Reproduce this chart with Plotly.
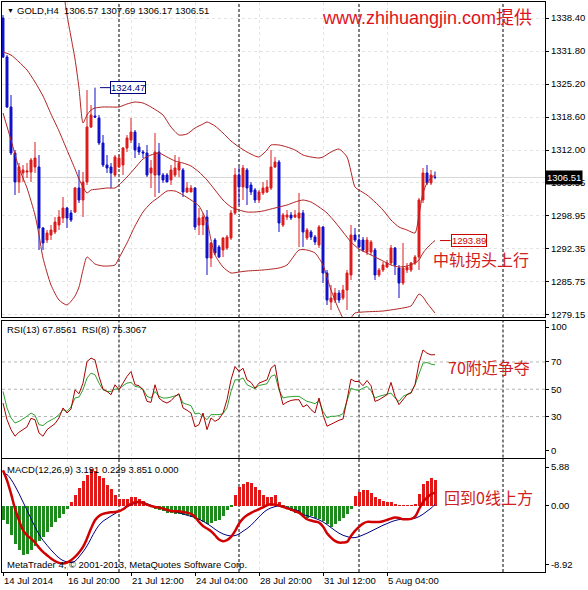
import plotly.graph_objects as go

# ---------------- 数据: GOLD H4 (14 Jul - 7 Aug 2014) ----------------
open_ = [1338.4, 1330.6, 1320.6, 1311.4, 1305.6, 1307.4, 1307.6, 1307.6, 1308.6, 1308.6,
         1296.4, 1294.0, 1295.0, 1295.6, 1297.0, 1298.4, 1300.4, 1299.4, 1299.6, 1304.4,
         1302.0, 1305.6, 1316.6, 1318.8, 1318.4, 1313.4, 1309.0, 1308.6, 1307.0, 1308.6,
         1309.0, 1312.4, 1314.0, 1315.6, 1312.6, 1311.6, 1311.4, 1307.4, 1307.0, 1311.6,
         1307.0, 1307.0, 1306.0, 1307.0, 1308.0, 1308.0, 1303.6, 1303.6, 1304.4, 1297.0,
         1297.0, 1298.6, 1290.4, 1294.0, 1292.6, 1292.0, 1292.4, 1294.4, 1299.4, 1307.0,
         1304.6, 1308.0, 1305.0, 1304.0, 1302.0, 1303.4, 1303.6, 1304.4, 1308.6, 1309.6,
         1297.0, 1298.6, 1299.0, 1298.6, 1298.4, 1299.4, 1294.4, 1295.6, 1294.6, 1293.0,
         1296.6, 1287.4, 1281.6, 1282.0, 1283.4, 1282.4, 1284.0, 1287.0, 1295.0, 1294.0,
         1294.0, 1291.6, 1291.6, 1292.0, 1287.0, 1288.0, 1288.6, 1289.4, 1292.4, 1288.4,
         1285.4, 1288.0, 1288.0, 1289.4, 1290.6, 1302.0, 1307.4, 1305.4, 1306.57]
high = [1339.0, 1331.0, 1323.0, 1312.0, 1309.4, 1309.0, 1309.4, 1310.4, 1313.6, 1311.0,
        1296.6, 1296.0, 1297.0, 1298.6, 1300.0, 1302.6, 1300.6, 1300.0, 1304.6, 1308.0,
        1307.6, 1324.0, 1321.0, 1324.47, 1319.0, 1315.0, 1311.0, 1309.4, 1311.0, 1311.0,
        1312.6, 1315.0, 1318.4, 1316.0, 1313.4, 1312.0, 1313.0, 1310.0, 1315.4, 1313.4,
        1307.4, 1307.4, 1309.0, 1311.0, 1310.6, 1308.4, 1305.6, 1305.0, 1304.6, 1300.4,
        1299.4, 1300.0, 1293.6, 1294.4, 1293.0, 1294.6, 1295.0, 1300.0, 1308.4, 1308.6,
        1309.0, 1308.4, 1305.6, 1304.4, 1304.0, 1305.6, 1306.0, 1312.0, 1310.6, 1310.0,
        1299.4, 1300.0, 1299.6, 1300.0, 1303.4, 1300.0, 1296.4, 1296.0, 1295.0, 1297.0,
        1296.8, 1288.0, 1285.0, 1284.4, 1284.0, 1285.0, 1288.0, 1297.0, 1296.4, 1295.0,
        1294.6, 1294.6, 1294.0, 1292.4, 1288.4, 1289.6, 1290.0, 1293.0, 1292.6, 1289.0,
        1293.4, 1289.4, 1289.6, 1291.0, 1302.4, 1308.4, 1309.0, 1308.0, 1307.69]
low = [1330.4, 1320.4, 1311.0, 1303.0, 1303.4, 1305.6, 1306.4, 1305.6, 1307.4, 1292.0,
       1292.0, 1293.4, 1294.0, 1295.2, 1296.0, 1297.4, 1296.4, 1297.6, 1299.4, 1301.4,
       1298.6, 1305.0, 1316.4, 1318.4, 1313.0, 1308.6, 1307.4, 1304.4, 1306.6, 1308.4,
       1307.0, 1311.6, 1313.4, 1310.4, 1311.0, 1310.4, 1306.6, 1304.4, 1302.6, 1303.4,
       1305.4, 1305.6, 1305.0, 1306.6, 1306.6, 1302.6, 1303.4, 1303.6, 1296.0, 1295.0,
       1295.0, 1287.0, 1288.6, 1291.0, 1290.4, 1290.6, 1292.0, 1294.0, 1299.0, 1301.0,
       1302.0, 1301.0, 1303.0, 1301.4, 1301.4, 1303.0, 1303.4, 1304.0, 1308.4, 1295.6,
       1296.6, 1298.0, 1298.0, 1298.4, 1292.6, 1292.6, 1294.0, 1294.0, 1293.0, 1292.4,
       1285.4, 1281.0, 1280.0, 1281.4, 1281.4, 1282.0, 1280.0, 1286.0, 1293.6, 1292.4,
       1291.6, 1291.0, 1291.0, 1286.0, 1286.6, 1287.6, 1288.4, 1289.0, 1287.0, 1282.4,
       1285.0, 1287.4, 1287.6, 1289.0, 1288.0, 1301.4, 1305.0, 1305.0, 1306.17]
close = [1330.6, 1320.6, 1311.4, 1305.6, 1308.6, 1308.0, 1307.8, 1310.0, 1310.4, 1296.4,
         1293.4, 1295.4, 1296.0, 1297.6, 1298.6, 1300.4, 1298.4, 1298.0, 1304.4, 1302.0,
         1305.6, 1316.6, 1319.0, 1318.6, 1313.4, 1309.0, 1308.4, 1307.4, 1310.6, 1310.4,
         1312.4, 1314.4, 1315.6, 1312.0, 1311.6, 1311.4, 1307.0, 1308.4, 1311.6, 1307.0,
         1306.0, 1305.6, 1308.0, 1308.4, 1309.4, 1303.6, 1304.4, 1304.4, 1296.6, 1298.4,
         1298.6, 1290.4, 1293.4, 1291.4, 1290.6, 1294.4, 1294.6, 1299.4, 1307.0, 1304.6,
         1308.4, 1304.4, 1303.6, 1302.0, 1303.6, 1304.4, 1304.6, 1308.6, 1309.6, 1297.4,
         1299.0, 1299.0, 1298.4, 1299.0, 1299.4, 1295.6, 1296.0, 1294.6, 1293.6, 1296.6,
         1287.4, 1282.0, 1282.4, 1283.4, 1282.0, 1284.0, 1287.4, 1295.0, 1294.0, 1292.6,
         1292.0, 1294.0, 1293.6, 1287.0, 1288.0, 1289.0, 1289.4, 1292.4, 1289.0, 1285.4,
         1288.4, 1288.6, 1289.4, 1290.6, 1302.0, 1307.4, 1305.4, 1307.0, 1306.51]

# Bollinger 上/中/下轨 (bar index, price)
bb_up_idx = [0, 3, 6, 9, 12, 14, 15, 16, 17, 18, 19, 20, 21, 22, 23, 25, 27, 29, 31, 33,
             35, 37, 39, 40, 42, 44, 46, 48, 50, 51, 53, 55, 57, 59, 61, 63, 64, 66, 67, 69,
             71, 73, 75, 77, 79, 80, 82, 84, 86, 88, 89, 91, 93, 95, 97, 99, 101, 103, 104,
             105, 106, 107, 108]
bb_up = [1372.0, 1370.0, 1367.0, 1363.0, 1356.0, 1350.0, 1344.4, 1339.0, 1334.6, 1330.2,
         1324.4, 1317.4, 1319.0, 1320.0, 1320.4, 1320.6, 1320.6, 1320.6, 1321.2, 1321.6,
         1321.4, 1320.6, 1319.6, 1319.0, 1316.6, 1315.0, 1315.2, 1316.4, 1317.2, 1317.6,
         1316.8, 1315.4, 1313.8, 1312.6, 1311.6, 1310.8, 1310.6, 1312.0, 1313.0, 1313.0,
         1312.6, 1312.0, 1311.0, 1310.6, 1310.4, 1310.6, 1311.6, 1312.2, 1310.6, 1304.6,
         1304.0, 1303.0, 1301.6, 1300.0, 1298.0, 1296.6, 1296.0, 1295.4, 1299.0, 1303.4,
         1305.4, 1306.4, 1307.0]
bb_mid_idx = [0, 2, 4, 6, 8, 10, 12, 14, 16, 18, 19, 20, 21, 22, 24, 26, 28, 29, 31, 33,
              35, 37, 39, 41, 43, 45, 47, 49, 51, 53, 55, 57, 59, 61, 63, 65, 67, 69, 71, 73,
              75, 77, 79, 81, 83, 85, 87, 89, 91, 93, 95, 97, 99, 101, 103, 104, 105, 106,
              107, 108]
bb_mid = [1331.6, 1331.0, 1329.6, 1328.0, 1325.6, 1322.8, 1319.2, 1315.8, 1312.0, 1308.2,
          1306.2, 1304.6, 1303.4, 1304.0, 1304.2, 1304.4, 1304.4, 1305.0, 1306.6, 1308.4,
          1310.2, 1311.0, 1311.4, 1310.6, 1309.8, 1309.4, 1308.8, 1307.6, 1306.0, 1304.0,
          1302.0, 1300.6, 1300.0, 1299.6, 1299.6, 1299.8, 1300.2, 1300.6, 1301.0, 1301.6,
          1302.0, 1301.6, 1300.6, 1299.4, 1297.6, 1295.6, 1293.6, 1292.2, 1291.4, 1290.6,
          1289.8, 1289.0, 1288.6, 1288.8, 1289.4, 1290.0, 1291.4, 1292.4, 1293.2, 1293.89]
bb_low_idx = [0, 2, 4, 6, 8, 9, 10, 12, 14, 16, 18, 19, 20, 21, 23, 25, 28, 29, 31, 33,
              35, 37, 39, 41, 43, 45, 47, 49, 51, 52, 53, 55, 57, 59, 61, 65, 69, 71, 74, 76,
              78, 80, 82, 84, 86, 87, 88, 90, 95, 100, 102, 103, 104, 105, 106, 107, 108]
bb_low = [1319.4, 1314.0, 1308.4, 1304.4, 1299.0, 1295.0, 1290.4, 1285.0, 1282.0, 1281.0,
          1282.8, 1284.6, 1288.0, 1290.6, 1289.2, 1288.8, 1289.0, 1290.4, 1293.4, 1296.8,
          1299.6, 1301.4, 1302.6, 1303.8, 1303.8, 1303.0, 1302.0, 1300.8, 1297.6, 1294.0,
          1291.0, 1288.6, 1287.4, 1287.6, 1287.8, 1288.0, 1288.4, 1289.0, 1292.0, 1292.0,
          1291.4, 1289.0, 1284.0, 1280.0, 1277.0, 1278.4, 1279.4, 1279.6, 1279.8, 1280.4,
          1280.8, 1282.0, 1283.2, 1282.6, 1281.4, 1280.4, 1279.4]

rsi13 = [48.4, 36.3, 29.0, 25.3, 26.5, 28.2, 30.2, 32.6, 30.9, 24.1,
         23.4, 25.8, 27.3, 29.0, 31.4, 35.0, 33.8, 37.0, 43.6, 44.3,
         49.6, 58.2, 61.8, 60.6, 54.5, 49.6, 48.4, 48.4, 50.1, 50.1,
         52.6, 54.5, 55.0, 52.1, 51.6, 50.1, 44.8, 43.6, 48.4, 44.8,
         43.6, 43.6, 44.3, 45.3, 46.0, 39.9, 38.7, 38.0, 31.9, 32.6,
         30.2, 27.7, 31.4, 31.4, 31.4, 32.1, 36.3, 48.4, 56.9, 56.9,
         58.2, 53.3, 52.1, 50.4, 52.8, 53.3, 54.0, 59.4, 60.6, 49.6,
         43.6, 44.3, 44.8, 44.8, 44.8, 42.8, 41.1, 40.4, 39.4, 41.8,
         33.8, 29.0, 30.2, 30.2, 30.7, 32.1, 42.3, 50.8, 49.6, 49.2,
         50.8, 52.1, 48.9, 43.6, 44.8, 45.7, 46.7, 47.2, 43.6, 41.1,
         44.8, 46.0, 47.7, 53.3, 61.8, 69.1, 69.6, 68.4, 67.86]
rsi8 = [39.9, 27.7, 20.4, 15.6, 18.5, 20.4, 22.4, 28.7, 27.7, 18.0,
        15.6, 20.4, 22.4, 24.8, 29.0, 36.3, 32.6, 35.5, 49.6, 46.7,
        54.5, 70.3, 72.8, 71.5, 59.4, 50.1, 48.4, 46.0, 53.3, 49.6,
        54.5, 59.4, 63.0, 53.3, 52.6, 49.6, 41.1, 40.4, 53.3, 43.6,
        41.1, 39.9, 41.6, 44.8, 46.7, 36.3, 34.6, 32.6, 22.4, 24.1,
        32.6, 20.4, 29.0, 26.5, 28.2, 32.6, 42.3, 56.9, 66.7, 63.0,
        65.4, 56.9, 55.0, 50.8, 54.5, 55.7, 56.9, 65.4, 67.9, 50.8,
        38.7, 40.6, 41.8, 42.3, 42.3, 37.0, 38.7, 35.0, 32.6, 43.6,
        31.4, 22.9, 24.1, 25.8, 27.3, 28.2, 42.3, 57.4, 55.7, 55.7,
        52.6, 56.4, 52.6, 41.1, 42.3, 44.3, 46.0, 55.0, 44.8, 38.7,
        42.3, 46.0, 47.2, 53.3, 69.1, 78.8, 76.4, 75.2, 75.31]

macd_hist = [-2.16, -2.67, -4.43, -5.68, -6.69, -7.34, -7.19, -6.69, -6.04, -5.33,
             -4.68, -3.92, -3.17, -2.41, -1.81, -1.16, -0.50, 0.60, 1.71, 2.72,
             3.72, 4.73, 5.53, 5.23, 4.53, 4.23, 3.22, 2.52, 1.71, 1.11,
             1.11, 1.11, 1.36, 1.36, 1.11, 0.70, 0.20, -0.20, -0.40, -0.65,
             -0.80, -1.01, -1.06, -1.16, -1.16, -1.31, -1.41, -1.66, -1.91, -2.16,
             -2.41, -2.67, -2.52, -2.31, -2.06, -1.51, -0.65, -0.05, 1.61, 2.87,
             3.37, 3.62, 3.52, 2.87, 2.36, 1.71, 1.36, 1.36, 1.71, 0.60,
             0.05, -0.40, -0.80, -1.01, -1.20, -1.66, -1.76, -1.51, -1.76, -2.01,
             -2.26, -2.77, -3.12, -2.77, -2.26, -1.76, -1.26, -0.50, 1.51, 2.11,
             2.41, 2.36, 1.91, 1.41, 1.01, 0.75, 0.65, 0.60, 0.35, 0.10,
             0.10, 0.10, 0.10, 0.25, 1.76, 3.27, 3.77, 4.28, 3.85]
macd_dif = [5.38, 3.87, 1.86, -0.40, -2.16, -3.67, -4.43, -4.93, -5.53, -6.29,
            -6.94, -7.44, -7.95, -8.35, -8.60, -8.70, -8.55, -8.20, -7.70, -7.04,
            -6.19, -4.93, -3.42, -2.16, -1.51, -1.21, -1.06, -0.96, -0.91, -0.80,
            -0.50, -0.05, 0.30, 0.55, 0.60, 0.45, 0.20, 0.00, -0.15, -0.25,
            -0.40, -0.60, -0.75, -0.80, -0.80, -0.91, -1.01, -1.21, -1.66, -2.41,
            -3.02, -3.42, -3.82, -4.43, -5.08, -5.33, -5.18, -4.68, -3.82, -2.67,
            -1.91, -1.41, -1.06, -0.75, -0.50, -0.20, 0.10, 0.25, 0.20, 0.05,
            -0.15, -0.35, -0.55, -0.80, -1.01, -1.51, -2.01, -2.21, -2.36, -2.52,
            -3.12, -4.12, -4.78, -5.28, -5.53, -5.53, -5.43, -4.53, -3.77, -3.17,
            -2.67, -2.41, -2.41, -2.41, -2.41, -2.31, -2.11, -1.91, -1.76, -1.81,
            -2.01, -2.01, -1.96, -1.61, -0.50, 0.60, 1.26, 1.76, 2.01]
macd_dea = [4.88, 4.73, 4.02, 3.02, 1.86, 0.60, -0.65, -1.91, -3.17, -4.28,
            -5.18, -5.94, -6.64, -7.29, -7.85, -8.25, -8.45, -8.55, -8.35, -7.70,
            -6.94, -6.04, -4.93, -3.82, -2.92, -2.31, -1.91, -1.51, -1.16, -0.80,
            -0.50, -0.15, 0.15, 0.40, 0.55, 0.55, 0.35, 0.10, -0.15, -0.30,
            -0.45, -0.65, -0.80, -0.91, -1.01, -1.21, -1.41, -1.56, -1.76, -2.01,
            -2.31, -2.67, -3.07, -3.52, -3.92, -4.23, -4.43, -4.53, -4.48, -4.23,
            -3.82, -3.42, -2.92, -2.31, -1.66, -1.06, -0.60, -0.30, -0.10, 0.00,
            -0.05, -0.20, -0.40, -0.60, -0.75, -1.31, -1.46, -1.66, -1.86, -2.11,
            -2.41, -2.82, -3.27, -3.72, -4.12, -4.43, -4.63, -4.78, -4.78, -4.63,
            -4.38, -4.12, -3.82, -3.52, -3.22, -2.92, -2.67, -2.41, -2.21, -2.06,
            -2.01, -2.01, -1.96, -1.86, -1.61, -1.26, -0.80, -0.35, 0.23]

time_labels = ["14 Jul 2014", "16 Jul 20:00", "21 Jul 12:00", "24 Jul 04:00",
               "28 Jul 20:00", "31 Jul 12:00", "5 Aug 04:00"]
time_label_idx = [0, 16, 32, 48, 64, 80, 96]
week_sep_idx = [29, 59, 89, 125]

price_ticks = [1338.40, 1331.80, 1325.20, 1318.60, 1312.00, 1305.48, 1298.95, 1292.35, 1285.75, 1279.15]
price_tick_text = ["1338.40", "1331.80", "1325.20", "1318.60", "1312.00", "1305.55",
                   "1298.95", "1292.35", "1285.75", "1279.15"]
rsi_ticks = [95.6, 70, 50, 30, 4.8]
rsi_tick_text = ["100", "70", "50", "30", "0"]
macd_ticks = [5.88, 0.0, -8.92]
macd_tick_text = ["5.88", "0.00", "-8.92"]

bars = list(range(len(close)))

# ---------------- 版面 ----------------
W, H = 588, 590
ML, MR, MT, MB = 2, 43, 2, 18
PW, PH = W - ML - MR, H - MT - MB


def paper_x(p):
    return (p - ML) / PW


def paper_y(p):
    return (H - MB - p) / PH


RED = "#dd1c1c"
BLUE = "#1010c8"
BAND = "#b22222"
FONT = "Liberation Sans, Arial, sans-serif"
CJK = "Noto Sans CJK SC, sans-serif"

fig = go.Figure()

fig.add_trace(go.Candlestick(
    x=bars, open=open_, high=high, low=low, close=close,
    increasing=dict(line=dict(color=RED, width=1), fillcolor=RED),
    decreasing=dict(line=dict(color=BLUE, width=1), fillcolor=BLUE),
    whiskerwidth=0, xaxis="x", yaxis="y", hoverinfo="skip",
))
for idx, vals in [(bb_up_idx, bb_up), (bb_mid_idx, bb_mid), (bb_low_idx, bb_low)]:
    fig.add_trace(go.Scatter(x=idx, y=vals, mode="lines",
                             line=dict(color=BAND, width=1, shape="spline", smoothing=0.6),
                             xaxis="x", yaxis="y", hoverinfo="skip"))

fig.add_trace(go.Scatter(x=bars, y=rsi13, mode="lines", line=dict(color="#30a030", width=1),
                         xaxis="x2", yaxis="y2", hoverinfo="skip"))
fig.add_trace(go.Scatter(x=bars, y=rsi8, mode="lines", line=dict(color="#a80000", width=1),
                         xaxis="x2", yaxis="y2", hoverinfo="skip"))

fig.add_trace(go.Bar(x=bars, y=macd_hist, width=0.75,
                     marker=dict(color=["#e01818" if v >= 0 else "#1e8a1e" for v in macd_hist],
                                 line=dict(width=0)),
                     xaxis="x3", yaxis="y3", hoverinfo="skip"))
fig.add_trace(go.Scatter(x=bars, y=macd_dea, mode="lines", line=dict(color="#000080", width=1, shape="spline"),
                         xaxis="x3", yaxis="y3", hoverinfo="skip"))
fig.add_trace(go.Scatter(x=bars, y=macd_dif, mode="lines", line=dict(color="#d00000", width=2.5, shape="spline"),
                         xaxis="x3", yaxis="y3", hoverinfo="skip"))

xr = [-0.25, -0.25 + PW / 4.0]
xbase = dict(range=xr, showline=True, mirror=True, linecolor="black", linewidth=1,
             tickvals=time_label_idx, showgrid=True, gridcolor="#e4e4e4", griddash="dot",
             zeroline=False, fixedrange=True)
ybase = dict(side="right", showline=True, mirror=True, linecolor="black", linewidth=1,
             ticks="outside", ticklen=3, tickcolor="black", zeroline=False,
             tickfont=dict(family=FONT, size=9.5, color="black"), fixedrange=True)

fig.update_layout(
    width=W, height=H, margin=dict(l=ML, r=MR, t=MT, b=MB),
    paper_bgcolor="white", plot_bgcolor="white", showlegend=False,
    bargap=0,
    xaxis=dict(xbase, domain=[0, 1], anchor="y", showticklabels=False, ticks="",
               rangeslider=dict(visible=False)),
    xaxis2=dict(xbase, domain=[0, 1], anchor="y2", showticklabels=False, ticks="", matches="x"),
    xaxis3=dict(xbase, domain=[0, 1], anchor="y3", ticktext=time_labels, ticks="outside",
                ticklen=3, tickcolor="black", ticklabelposition="outside right", matches="x",
                tickfont=dict(family=FONT, size=9.5, color="black")),
    yaxis=dict(ybase, domain=[paper_y(317), 1], range=[1278.6, 1341.6],
               tickvals=price_ticks, ticktext=price_tick_text,
               showgrid=True, gridcolor="#e4e4e4", griddash="dot"),
    yaxis2=dict(ybase, domain=[paper_y(457.5), paper_y(321)], range=[0, 100],
                tickvals=rsi_ticks, ticktext=rsi_tick_text, showgrid=False),
    yaxis3=dict(ybase, domain=[0, paper_y(459)], range=[-9.98, 7.09],
                tickvals=macd_ticks, ticktext=macd_tick_text, showgrid=False),
)

shapes = []
for s in week_sep_idx:
    for xa, ya in [("x", "y domain"), ("x2", "y2 domain"), ("x3", "y3 domain")]:
        shapes.append(dict(type="line", xref=xa, yref=ya, x0=s, x1=s, y0=0, y1=1,
                           line=dict(color="black", width=1, dash="3px,2px"), layer="below"))
for lv in [30, 50, 70]:
    shapes.append(dict(type="line", xref="x2 domain", yref="y2", x0=0, x1=1, y0=lv, y1=lv,
                       line=dict(color="#b4b4b4", width=1, dash="3px,3px"), layer="below"))
# bid line
shapes.append(dict(type="line", xref="x domain", yref="y", x0=0, x1=1, y0=close[-1], y1=close[-1],
                   line=dict(color="#d6d6d6", width=1), layer="below"))
# leader lines for price labels
shapes.append(dict(type="line", xref="x", yref="y", x0=24.25, x1=26.75, y0=1324.47, y1=1324.47,
                   line=dict(color="#000080", width=1)))
shapes.append(dict(type="line", xref="x", yref="y", x0=109.25, x1=111.9, y0=1293.89, y1=1293.89,
                   line=dict(color="#cc0000", width=1)))
fig.update_layout(shapes=shapes)


def label(text, x, y, size=9.5, color="black", family=FONT):
    fig.add_annotation(text=text, x=paper_x(x), y=paper_y(y), xref="paper", yref="paper",
                       xanchor="left", yanchor="middle", showarrow=False,
                       font=dict(family=family, size=size, color=color))


NB = "\u00a0"
label("▼", 5, 10, size=7)
label("GOLD,H4" + NB * 2 + "1306.57 1307.69 1306.17 1306.51", 15, 10)
label("www.zhihuangjin.com提供", 320, 18, size=18, color="#e0121c", family="Liberation Sans, Noto Sans CJK SC")
label("中轨拐头上行", 431, 259, size=16, color="#d02020", family=CJK)
label("RSI(13) 67.8561" + NB * 2 + "RSI(8) 75.3067", 5, 329)
label("70附近争夺", 446, 367, size=16, color="#d02020", family=CJK)
label("MACD(12,26,9) 3.191 0.229 3.851 0.000", 5, 469)
label("回到0线上方", 442, 497, size=16, color="#d02020", family=CJK)
label("MetaTrader 4, © 2001-2013, MetaQuotes Software Corp.", 5, 564)

fig.add_annotation(text="1324.47", x=26.75, y=1324.47, xref="x", yref="y", xanchor="left",
                   yanchor="middle", showarrow=False, bgcolor="white", bordercolor="#000080",
                   borderwidth=1, borderpad=0, font=dict(family=FONT, size=9.5, color="#000080"))
fig.add_annotation(text="1293.89", x=111.9, y=1293.89, xref="x", yref="y", xanchor="left",
                   yanchor="middle", showarrow=False, bgcolor="white", bordercolor="#cc0000",
                   borderwidth=1, borderpad=0, font=dict(family=FONT, size=9.5, color="#cc0000"))
fig.add_annotation(text="1306.51", x=1.0, y=close[-1], xref="paper", yref="y", xanchor="left",
                   yanchor="middle", showarrow=False, bgcolor="black", borderpad=1,
                   font=dict(family=FONT, size=9.5, color="white"))

# 页面去掉 body 默认外边距, 使图正好铺满窗口; 不显示工具条
fig.write_html("out.html", config={"displayModeBar": False},
               post_script="document.body.style.margin='0px';")
